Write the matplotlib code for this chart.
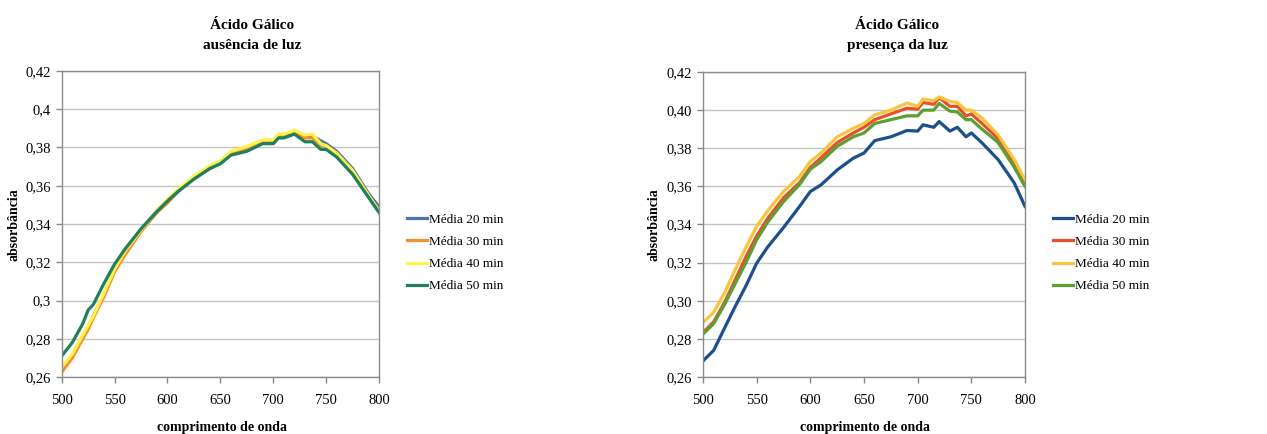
import matplotlib
matplotlib.use("Agg")
import matplotlib.pyplot as plt

plt.rcParams['font.family'] = ['Liberation Serif', 'DejaVu Serif']

# ---------------- data ----------------
wl_left = [500, 510, 520, 525, 530, 540, 550, 560, 575, 590, 600, 610, 625, 640, 650,
           660, 675, 690, 700, 705, 710, 720, 730, 737, 745, 750, 760, 775, 790, 800]
left_20 = [0.263, 0.271, 0.281, 0.286, 0.292, 0.303, 0.316, 0.325, 0.337, 0.347, 0.352, 0.357,
           0.364, 0.369, 0.3725, 0.377, 0.3795, 0.383, 0.3835, 0.3865, 0.3865, 0.388, 0.386,
           0.386, 0.3835, 0.382, 0.378, 0.369, 0.356, 0.349]
left_30 = [0.2625, 0.270, 0.280, 0.285, 0.291, 0.302, 0.315, 0.324, 0.336, 0.346, 0.351, 0.357,
           0.3635, 0.369, 0.372, 0.3765, 0.379, 0.3825, 0.383, 0.386, 0.386, 0.3875, 0.385,
           0.385, 0.381, 0.381, 0.377, 0.368, 0.355, 0.347]
left_40 = [0.265, 0.272, 0.282, 0.287, 0.292, 0.304, 0.3165, 0.326, 0.337, 0.347, 0.353, 0.358,
           0.365, 0.3705, 0.373, 0.378, 0.3805, 0.384, 0.384, 0.387, 0.387, 0.389, 0.3865,
           0.387, 0.382, 0.381, 0.377, 0.368, 0.355, 0.347]
left_50 = [0.271, 0.278, 0.288, 0.295, 0.298, 0.309, 0.319, 0.327, 0.3375, 0.3465, 0.352, 0.357,
           0.3635, 0.369, 0.3715, 0.376, 0.378, 0.382, 0.382, 0.385, 0.385, 0.387, 0.383,
           0.383, 0.379, 0.379, 0.375, 0.366, 0.354, 0.346]

wl_right = [500, 510, 520, 530, 540, 550, 560, 575, 590, 600, 610, 625, 640, 650, 660,
            675, 690, 700, 705, 715, 720, 730, 737, 745, 750, 760, 775, 790, 800]
right_20 = [0.2684, 0.274, 0.2856, 0.297, 0.3078, 0.3197, 0.328, 0.3384, 0.3495, 0.3573, 0.3608,
            0.3686, 0.3748, 0.3775, 0.384, 0.386, 0.3893, 0.389, 0.3923, 0.391, 0.394, 0.389,
            0.391, 0.386, 0.388, 0.3828, 0.374, 0.3618, 0.3495]
right_30 = [0.2833, 0.289, 0.299, 0.311, 0.323, 0.334, 0.343, 0.354, 0.362, 0.370, 0.375,
            0.383, 0.388, 0.391, 0.395, 0.398, 0.401, 0.4005, 0.404, 0.403, 0.4065, 0.402,
            0.402, 0.397, 0.398, 0.393, 0.385, 0.372, 0.362]
right_40 = [0.2885, 0.294, 0.304, 0.3164, 0.328, 0.339, 0.347, 0.3573, 0.3652, 0.3731, 0.3775,
            0.386, 0.3905, 0.393, 0.3975, 0.400, 0.4037, 0.402, 0.4058, 0.405, 0.4069, 0.4046,
            0.404, 0.400, 0.400, 0.3958, 0.387, 0.374, 0.3635]
right_50 = [0.2825, 0.288, 0.298, 0.309, 0.320, 0.332, 0.341, 0.352, 0.361, 0.369, 0.373,
            0.381, 0.386, 0.388, 0.393, 0.395, 0.397, 0.397, 0.400, 0.400, 0.4035, 0.3995,
            0.399, 0.395, 0.395, 0.390, 0.383, 0.370, 0.360]

series_labels = ['Média 20 min', 'Média 30 min', 'Média 40 min', 'Média 50 min']
x_ticks = [500, 550, 600, 650, 700, 750, 800]
y_ticks = [0.26, 0.28, 0.30, 0.32, 0.34, 0.36, 0.38, 0.40, 0.42]
y_ticklabels_left = ['0,26', '0,28', '0,3', '0,32', '0,34', '0,36', '0,38', '0,4', '0,42']
y_ticklabels_right = ['0,26', '0,28', '0,30', '0,32', '0,34', '0,36', '0,38', '0,40', '0,42']

colors_left = ['#4A75AE', '#F3922F', '#FFF34A', '#1F7F5E']
colors_right = ['#1C4F8D', '#E8502A', '#F6C73E', '#5E9F35']

W, H = 1267, 434
fig = plt.figure(figsize=(W / 100, H / 100), dpi=100)


def make_panel(rect, wl, series, colors, yticklabels, subtitle, title_x, ylab_x, xlab_x, leg_x):
    ax = fig.add_axes(rect)
    for ys, c, lab in zip(series, colors, series_labels):
        ax.plot(wl, ys, color=c, lw=2.3, label=lab, solid_joinstyle='round')
    ax.set_xlim(500, 800)
    ax.set_ylim(0.26, 0.42)
    ax.set_xticks(x_ticks)
    ax.set_xticklabels([str(t) for t in x_ticks])
    ax.set_yticks(y_ticks)
    ax.set_yticklabels(yticklabels)
    ax.tick_params(axis='both', labelsize=10.5, length=4, color='#888888', width=1,
                   direction='out')
    ax.tick_params(axis='x', pad=8)
    ax.tick_params(axis='y', pad=4)
    ax.grid(axis='y', color='#C4C4C4', lw=1)
    ax.set_axisbelow(True)
    for s in ax.spines.values():
        s.set_color('#8C8C8C')
        s.set_linewidth(1)
    fig.text(title_x / W, 1 - 35.5 / H, 'Ácido Gálico\n' + subtitle, ha='center', va='center',
             fontsize=11, fontweight='bold', linespacing=1.65)
    fig.text(ylab_x / W, 1 - 225 / H, 'absorbância', rotation=90, ha='center', va='center',
             fontsize=10, fontweight='bold')
    fig.text(xlab_x / W, 1 - 427 / H, 'comprimento de onda', ha='center', va='center',
             fontsize=10, fontweight='bold')
    leg = ax.legend(loc='center left', bbox_to_anchor=(leg_x / W, 1 - 253 / H),
                    bbox_transform=fig.transFigure, frameon=False, fontsize=9.5,
                    handlelength=1.55, handletextpad=0.1, labelspacing=0.75,
                    borderaxespad=0, borderpad=0)
    for line in leg.get_lines():
        line.set_linewidth(2.3)
    return ax


make_panel([61.7 / W, 1 - 377 / H, 317.3 / W, 306 / H], wl_left,
           [left_20, left_30, left_40, left_50], colors_left, y_ticklabels_left,
           'ausência de luz', 252, 14, 222, 407)
make_panel([703 / W, 1 - 377 / H, 322 / W, 305 / H], wl_right,
           [right_20, right_30, right_40, right_50], colors_right, y_ticklabels_right,
           'presença da luz', 897, 654, 865, 1053)

fig.savefig('out.png', dpi=100)
